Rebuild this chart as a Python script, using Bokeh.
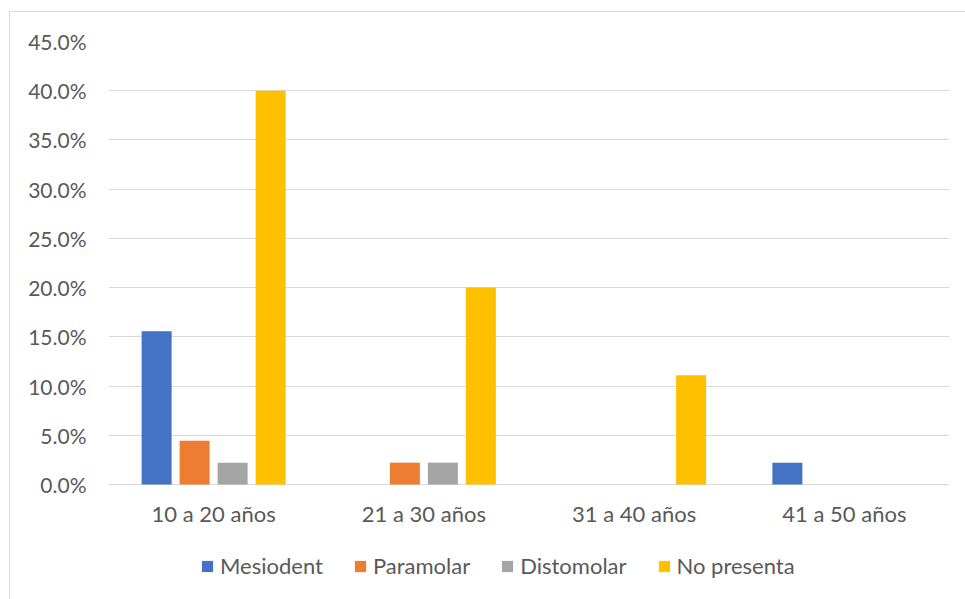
from bokeh.plotting import figure
from bokeh.models import (ColumnDataSource, FactorRange, Range1d, NumeralTickFormatter,
                          FixedTicker, Legend, LegendItem)
from bokeh.core.properties import value
from bokeh.transform import dodge
from bokeh.embed import file_html
from bokeh.resources import INLINE

# Age groups and share of each supernumerary tooth type
categories = ["10 a 20 años", "21 a 30 años", "31 a 40 años", "41 a 50 años"]
mesiodent = [0.1556, 0.0, 0.0, 0.0222]
paramolar = [0.0444, 0.0222, 0.0, 0.0]
distomolar = [0.0222, 0.0222, 0.0, 0.0]
no_presenta = [0.4000, 0.2000, 0.1111, 0.0]
y_ticks = [0.0, 0.05, 0.10, 0.15, 0.20, 0.25, 0.30, 0.35, 0.40, 0.45]

series = [
    ("Mesiodent", mesiodent, "#4472C4"),
    ("Paramolar", paramolar, "#ED7D31"),
    ("Distomolar", distomolar, "#A5A5A5"),
    ("No presenta", no_presenta, "#FFC000"),
]

FONT = "Lato"
TEXT = "#595959"
GRID = "#D9D9D9"

# plot area: 443 px for 0..45 %, plus 115 px below the baseline for labels and legend
PX = 0.45 / 443
Y_MIN = -115 * PX

source = ColumnDataSource(dict(cat=categories, Mesiodent=mesiodent, Paramolar=paramolar,
                               Distomolar=distomolar, **{"No presenta": no_presenta}))

p = figure(x_range=FactorRange(*categories), y_range=Range1d(Y_MIN, 0.45),
           frame_width=841, frame_height=558,
           min_border_left=98, min_border_right=16, min_border_top=29, min_border_bottom=0,
           output_backend="svg", toolbar_location=None)
p.outline_line_color = None
p.background_fill_color = "white"
p.border_fill_color = "white"
# chart-area border (left and top edges; the rest runs off the page)
p.margin = (11, 0, 0, 9)
p.styles = {"border-left": "1px solid #D9D9D9", "border-top": "1px solid #D9D9D9"}

step = 38 / 210.25
bar_w = 30 / 210.25
items = []
for i, (name, vals, color) in enumerate(series):
    off = (i - 1.5) * step
    r = p.vbar(x=dodge("cat", off, range=p.x_range), top=name, bottom=0, width=bar_w,
               source=source, fill_color=color, line_color=None)
    items.append(LegendItem(label=name, renderers=[r]))

# Category labels under the baseline
p.text(x="cat", y=0, text="cat", source=source, y_offset=29,
       text_align="center", text_baseline="middle",
       text_font=value(FONT), text_font_size="22px", text_color=TEXT)

# Axes
p.xaxis.visible = False
yax = p.yaxis[0]
yax.ticker = FixedTicker(ticks=y_ticks)
yax.formatter = NumeralTickFormatter(format="0.0%")
yax.axis_line_color = None
yax.major_tick_line_color = None
yax.minor_tick_line_color = None
yax.major_tick_out = 0
yax.major_tick_in = 0
yax.major_label_text_font = FONT
yax.major_label_text_font_size = "21px"
yax.major_label_text_color = TEXT
yax.major_label_standoff = 22

p.xgrid.grid_line_color = None
p.ygrid.ticker = FixedTicker(ticks=y_ticks)
p.ygrid.grid_line_color = GRID
p.ygrid.grid_line_width = 1

legend = Legend(items=items, orientation="horizontal", location=(92, 20),
                glyph_width=14, glyph_height=14, label_standoff=6, spacing=30,
                padding=0, margin=0, background_fill_alpha=0, border_line_color=None,
                label_text_font=FONT, label_text_font_size="22px", label_text_color=TEXT)
p.add_layout(legend, "center")

open("out.html", "w").write(file_html(p, INLINE))
